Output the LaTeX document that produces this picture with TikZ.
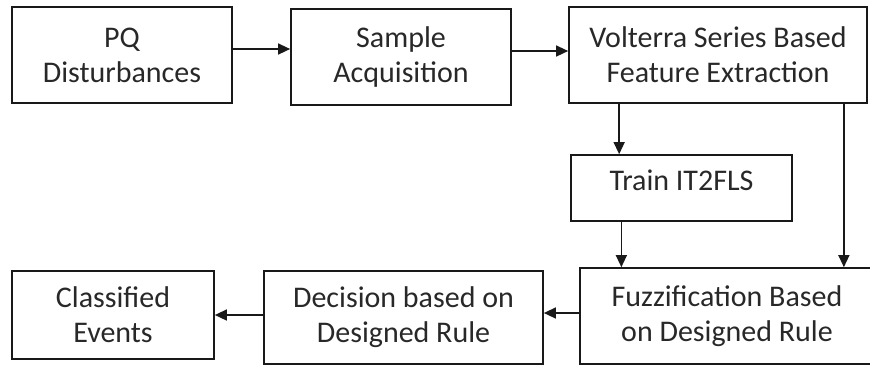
\documentclass[tikz,border=0pt]{standalone}
\usepackage{fontspec}
\setmainfont{Carlito}
\usepackage{tikz}
\usetikzlibrary{arrows.meta,positioning,calc}
\definecolor{boxline}{RGB}{25,25,25}
\definecolor{txtgray}{RGB}{40,40,40}
\tikzset{
  blockbox/.style={draw=boxline, line width=0.85pt, align=center, inner sep=2pt,
    text=txtgray, font=\fontsize{15}{17.5}\selectfont},
  flowarrow/.style={-{Triangle[length=6pt,width=5.5pt]}, line width=0.7pt, draw=boxline},
}

\begin{document}
\begin{tikzpicture}[x=0.5pt, y=-0.5pt]
        \useasboundingbox (0,0) rectangle (870,366);
        % --- top row ---
        \node[blockbox, minimum width=110pt, minimum height=48pt] (pq)
          at (122,55) {PQ\\Disturbances};
        \node[blockbox, minimum width=110pt, minimum height=48pt] (sample)
          at (401,57) {Sample\\Acquisition};
        \node[blockbox, minimum width=149pt, minimum height=48pt] (volterra)
          at (718,55) {Volterra Series Based\\Feature Extraction};

        % --- training ---
        \node[blockbox, minimum width=110.5pt, minimum height=33pt, text depth=8pt] (train)
          at (681.5,188) {Train IT2FLS};

        % --- bottom row ---
        \node[blockbox, minimum width=147pt, minimum height=48pt] (fuzz)
          at (727,316) {Fuzzification Based\\on Designed Rule};
        \node[blockbox, minimum width=139.5pt, minimum height=46.5pt] (decision)
          at (403.5,317.5) {Decision based on\\Designed Rule};
        \node[blockbox, minimum width=101pt, minimum height=44pt] (classified)
          at (113,315) {Classified\\Events};

        % Arrows
        \draw[flowarrow] ([yshift=3pt]pq.east) -- ([yshift=3pt]pq.east -| sample.west);
        \draw[flowarrow] ([yshift=3pt]sample.east) -- ([yshift=3pt]sample.east -| volterra.west);
        \coordinate (tin) at ($(train.north west)!0.22!(train.north east)$);
        \coordinate (tout) at ($(train.south west)!0.23!(train.south east)$);
        \coordinate (vout) at ($(volterra.south west)!0.92!(volterra.south east)$);
        \draw[flowarrow] (volterra.south -| tin) -- (tin);
        \draw[flowarrow] (tout) -- (tout |- fuzz.north);
        \draw[flowarrow] (vout) -- (vout |- fuzz.north);
        \draw[flowarrow] ([yshift=1.5pt]fuzz.west) -- ([yshift=1.5pt]fuzz.west -| decision.east);
        \draw[flowarrow] (decision.west |- classified.east) -- (classified.east);
      \end{tikzpicture}
\end{document}
